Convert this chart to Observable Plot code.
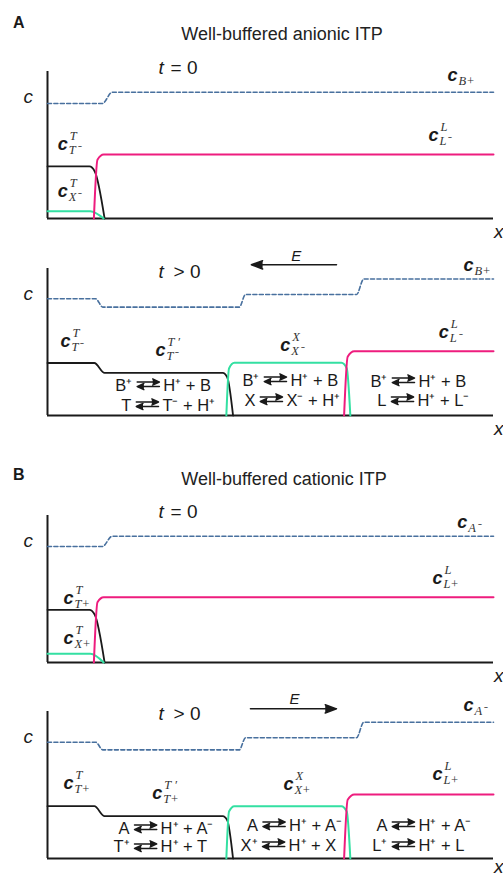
<!DOCTYPE html>
<html><head><meta charset="utf-8">
<script src="https://cdn.jsdelivr.net/npm/d3@7"></script>
<script src="https://cdn.jsdelivr.net/npm/@observablehq/plot@0.6"></script>
<style>
body{margin:0;background:#fff;}
#fig{position:relative;width:503px;height:877px;overflow:hidden;font-family:"Liberation Sans",Arial,Helvetica,sans-serif;color:#1a1a1a;background:#fff}
.panel{position:absolute;left:0}
.letter{position:absolute;left:13px;font-weight:bold;font-size:16px;line-height:16px}
.title{position:absolute;font-size:18px;line-height:18px;transform:translateX(-50%);white-space:nowrap;color:#222}
</style></head><body><div id="fig"></div>
<script>
// ---------- data ----------
const panelLetters = ["A", "B"];
const panelTitles = ["Well-buffered anionic ITP", "Well-buffered cationic ITP"];
const timeLabels = ["= 0", "> 0", "= 0", "> 0"];
const fieldLabel = "E";

// concentration profiles: [position (0-100), concentration (0-1)]
// Panel A, t = 0
const bufferA0   = [[0,.782],[12.3,.782],[14.5,.859],[100,.859]];
const trailingA0 = [[0,.354],[9.4,.354],[10.6,.32],[12.8,0]];
const sampleA0   = [[0,.05],[9.6,.05],[12.6,0]];
const leadingA0  = [[10.4,0],[11.2,.40],[12.6,.435],[100,.435]];
// Panel A, t > 0
const bufferA1   = [[0,.794],[10.8,.794],[12.4,.737],[43.0,.737],[44.4,.823],[69.3,.823],[70.9,.929],[100,.929]];
const trailingA1 = [[0,.357],[10.5,.357],[12.8,.29],[39.3,.29],[40.3,.26],[41.6,0]];
const sampleA1   = [[40.1,0],[40.7,.32],[41.9,.358],[65.9,.358],[67.1,.32],[67.9,0]];
const leadingA1  = [[66.5,0],[67.3,.40],[68.8,.437],[100,.437]];
// Panel B, t = 0
const bufferB0   = [[0,.789],[12.3,.789],[14.5,.859],[100,.859]];
const trailingB0 = [[0,.358],[9.4,.358],[10.6,.325],[12.8,0]];
const sampleB0   = [[0,.059],[9.6,.059],[12.6,0]];
const leadingB0  = [[10.4,0],[11.2,.41],[12.6,.444],[100,.444]];
// Panel B, t > 0
const bufferB1   = [[0,.791],[10.8,.791],[12.4,.739],[43.0,.739],[44.4,.821],[69.3,.821],[70.9,.927],[100,.927]];
const trailingB1 = [[0,.356],[10.5,.356],[12.8,.288],[39.3,.288],[40.3,.26],[41.6,0]];
const sampleB1   = [[40.1,0],[40.7,.32],[41.9,.356],[65.9,.356],[67.1,.32],[67.9,0]];
const leadingB1  = [[66.5,0],[67.3,.40],[68.8,.435],[100,.435]];

// concentration labels c^sup_sub
const labelsA0 = [
  {x:89.7, y:.932, sup:"", sub:"B+"},
  {x:85.4, y:.524, sup:"L", sub:"L\u207B"},
  {x:2.3,  y:.463, sup:"T", sub:"T\u207B"},
  {x:2.3,  y:.145, sup:"T", sub:"X\u207B"}
];
const labelsA1 = [
  {x:93.3, y:.982, sup:"", sub:"B+"},
  {x:87.7, y:.524, sup:"L", sub:"L\u207B"},
  {x:2.9,  y:.463, sup:"T", sub:"T\u207B"},
  {x:24.2, y:.408, sup:"T \u2032", sub:"T\u207B"},
  {x:52.2, y:.442, sup:"X", sub:"X\u207B"}
];
const labelsB0 = [
  {x:91.9, y:.912, sup:"", sub:"A\u207B"},
  {x:86.3, y:.531, sup:"L", sub:"L+"},
  {x:3.6,  y:.401, sup:"T", sub:"T+"},
  {x:3.6,  y:.129, sup:"T", sub:"X+"}
];
const labelsB1 = [
  {x:93.3, y:1.002, sup:"", sub:"A\u207B"},
  {x:3.6,  y:.476, sup:"T", sub:"T+"},
  {x:23.5, y:.408, sup:"T \u2032", sub:"T+"},
  {x:52.9, y:.463, sup:"X", sub:"X+"},
  {x:86.3, y:.531, sup:"L", sub:"L+"}
];

// equilibria in each zone: reactant ⇄ products (one row per line)
const reactionsA1 = [
  {x:22.6, y:.170, left:"B\u207A", right:"H\u207A + B"},
  {x:22.4, y:.034, left:"T",       right:"T\u207B + H\u207A"},
  {x:51.1, y:.204, left:"B\u207A", right:"H\u207A + B"},
  {x:50.2, y:.068, left:"X",       right:"X\u207B + H\u207A"},
  {x:79.8, y:.197, left:"B\u207A", right:"H\u207A + B"},
  {x:79.6, y:.068, left:"L",       right:"H\u207A + L\u207B"}
];
const reactionsB1 = [
  {x:22.0, y:.170, left:"A",       right:"H\u207A + A\u207B"},
  {x:22.0, y:.041, left:"T\u207A", right:"H\u207A + T"},
  {x:50.8, y:.190, left:"A",       right:"H\u207A + A\u207B"},
  {x:50.7, y:.054, left:"X\u207A", right:"H\u207A + X"},
  {x:79.8, y:.190, left:"A",       right:"H\u207A + A\u207B"},
  {x:79.8, y:.054, left:"L\u207A", right:"H\u207A + L"}
];

// electric field arrows
const fieldA1 = [{x1:64.8, x2:45.7, y:1.025, lx:55.8, ly:1.054}];
const fieldB1 = [{x1:45.5, x2:64.8, y:1.018, lx:55.4, ly:1.054}];

// ---------- drawing ----------
const SANS = "Liberation Sans, Arial, Helvetica, sans-serif";
const SERIF = "Liberation Serif, Times New Roman, serif";
const INK = "#1a1a1a";
const colors = {buffer:"#48709e", trailing:"#1a1a1a", sample:"#33e0a2", leading:"#ee1c7e"};
const HALF_ARROW = 2.5; // half-length of an equilibrium arrow, in position units

function panel(cfg) {
  const P = (d) => d[0], C = (d) => d[1];
  const marks = [
    Plot.ruleX([0], {stroke: INK, strokeWidth: 2}),
    Plot.ruleY([0], {stroke: INK, strokeWidth: 2}),
    Plot.line(cfg.buffer, {x: P, y: C, curve: "monotone-x", stroke: colors.buffer, strokeWidth: 1.6, strokeDasharray: "4,2.4"}),
    Plot.line(cfg.trailing, {x: P, y: C, curve: "monotone-x", stroke: colors.trailing, strokeWidth: 1.8}),
    Plot.line(cfg.sample, {x: P, y: C, curve: "monotone-x", stroke: colors.sample, strokeWidth: 2}),
    Plot.line(cfg.leading, {x: P, y: C, curve: "monotone-x", stroke: colors.leading, strokeWidth: 2}),
    // axis labels
    Plot.text(["c"], {x: () => -4.3, y: () => .787, text: d => d, lineAnchor: "bottom", fontSize: 19, fontStyle: "italic", fontFamily: SANS, fill: INK}),
    Plot.text(["x"], {x: () => 101.2, y: () => cfg.xLabelY, text: d => d, lineAnchor: "bottom", fontSize: 19, fontStyle: "italic", fontFamily: SANS, fill: INK}),
    // time label
    Plot.text([cfg.time], {x: () => 24.9, y: () => cfg.timeY, text: () => "t", textAnchor: "start", lineAnchor: "bottom", fontSize: 19, fontStyle: "italic", fontFamily: SANS, fill: INK}),
    Plot.text([cfg.time], {x: () => 24.9, y: () => cfg.timeY, text: d => d, dx: cfg.time.startsWith(">") ? 15 : 12, textAnchor: "start", lineAnchor: "bottom", fontSize: 19, fontFamily: SANS, fill: INK}),
    // concentration labels
    Plot.text(cfg.labels, {x: "x", y: "y", text: () => "c", textAnchor: "start", lineAnchor: "bottom", fontSize: 18, fontWeight: "bold", fontStyle: "italic", fontFamily: SANS, fill: INK}),
    Plot.text(cfg.labels, {x: "x", y: "y", text: "sup", dx: 12, dy: -10, textAnchor: "start", lineAnchor: "bottom", fontSize: 12.5, fontStyle: "italic", fontFamily: SERIF, fill: "#333"}),
    Plot.text(cfg.labels, {x: "x", y: "y", text: "sub", dx: 11, dy: 4, textAnchor: "start", lineAnchor: "bottom", fontSize: 12.5, fontStyle: "italic", fontFamily: SERIF, fill: "#333"})
  ];
  if (cfg.reactions) {
    marks.push(Plot.text(cfg.reactions, {x: "x", y: "y", text: "left", dx: -16, textAnchor: "end", lineAnchor: "bottom", fontSize: 16.5, fontFamily: SANS, fill: INK}));
    marks.push(Plot.text(cfg.reactions, {x: "x", y: "y", text: "right", dx: 15, textAnchor: "start", lineAnchor: "bottom", fontSize: 16.5, fontFamily: SANS, fill: INK}));
    // equilibrium arrows: forward (top) and reverse (bottom)
    marks.push(Plot.arrow(cfg.reactions, {x1: d => d.x - HALF_ARROW, x2: d => d.x + HALF_ARROW, y1: "y", y2: "y", dy: -8.5, stroke: INK, fill: INK, strokeWidth: 1.4, headLength: 8, headAngle: 50}));
    marks.push(Plot.arrow(cfg.reactions, {x1: d => d.x + HALF_ARROW, x2: d => d.x - HALF_ARROW, y1: "y", y2: "y", dy: -4, stroke: INK, fill: INK, strokeWidth: 1.4, headLength: 8, headAngle: 50}));
  }
  if (cfg.field) {
    marks.push(Plot.arrow(cfg.field, {x1: "x1", x2: "x2", y1: "y", y2: "y", stroke: INK, fill: INK, strokeWidth: 1.5, headLength: 12, headAngle: 40}));
    marks.push(Plot.text(cfg.field, {x: "lx", y: "ly", text: () => fieldLabel, lineAnchor: "bottom", fontSize: 15, fontStyle: "italic", fontFamily: SANS, fill: INK}));
  }
  const svg = Plot.plot({
    width: 503, height: cfg.height,
    marginLeft: 47, marginRight: 10, marginTop: cfg.marginTop, marginBottom: cfg.marginBottom,
    x: {domain: [0, 100], axis: null},
    y: {domain: [0, 1], axis: null},
    style: {background: "transparent", overflow: "visible"},
    marks
  });
  svg.classList.add("panel");
  svg.style.top = cfg.top + "px";
  svg.style.position = "absolute";
  return svg;
}

const fig = document.getElementById("fig");

// headings
[[panelLetters[0], 14.5], [panelLetters[1], 466.5]].forEach(([t, top]) => {
  const d = document.createElement("div"); d.className = "letter"; d.textContent = t; d.style.top = top + "px"; fig.appendChild(d);
});
[[panelTitles[0], 24.8, 282], [panelTitles[1], 469.8, 284]].forEach(([t, top, cx]) => {
  const d = document.createElement("div"); d.className = "title"; d.textContent = t; d.style.top = top + "px"; d.style.left = cx + "px"; fig.appendChild(d);
});

const panels = [
  {buffer: bufferA0, trailing: trailingA0, sample: sampleA0, leading: leadingA0, labels: labelsA0, time: timeLabels[0], timeY: .986, xLabelY: -.136, top: 45, height: 200, marginTop: 26, marginBottom: 27},
  {buffer: bufferA1, trailing: trailingA1, sample: sampleA1, leading: leadingA1, labels: labelsA1, reactions: reactionsA1, field: fieldA1, time: timeLabels[1], timeY: .932, xLabelY: -.136, top: 245, height: 200, marginTop: 23, marginBottom: 30},
  {buffer: bufferB0, trailing: trailingB0, sample: sampleB0, leading: leadingB0, labels: labelsB0, time: timeLabels[2], timeY: .986, xLabelY: -.136, top: 490, height: 200, marginTop: 25, marginBottom: 28},
  {buffer: bufferB1, trailing: trailingB1, sample: sampleB1, leading: leadingB1, labels: labelsB1, reactions: reactionsB1, field: fieldB1, time: timeLabels[3], timeY: .939, xLabelY: -.098, top: 690, height: 187, marginTop: 21, marginBottom: 19}
];
panels.forEach(cfg => fig.appendChild(panel(cfg)));
</script></body></html>
